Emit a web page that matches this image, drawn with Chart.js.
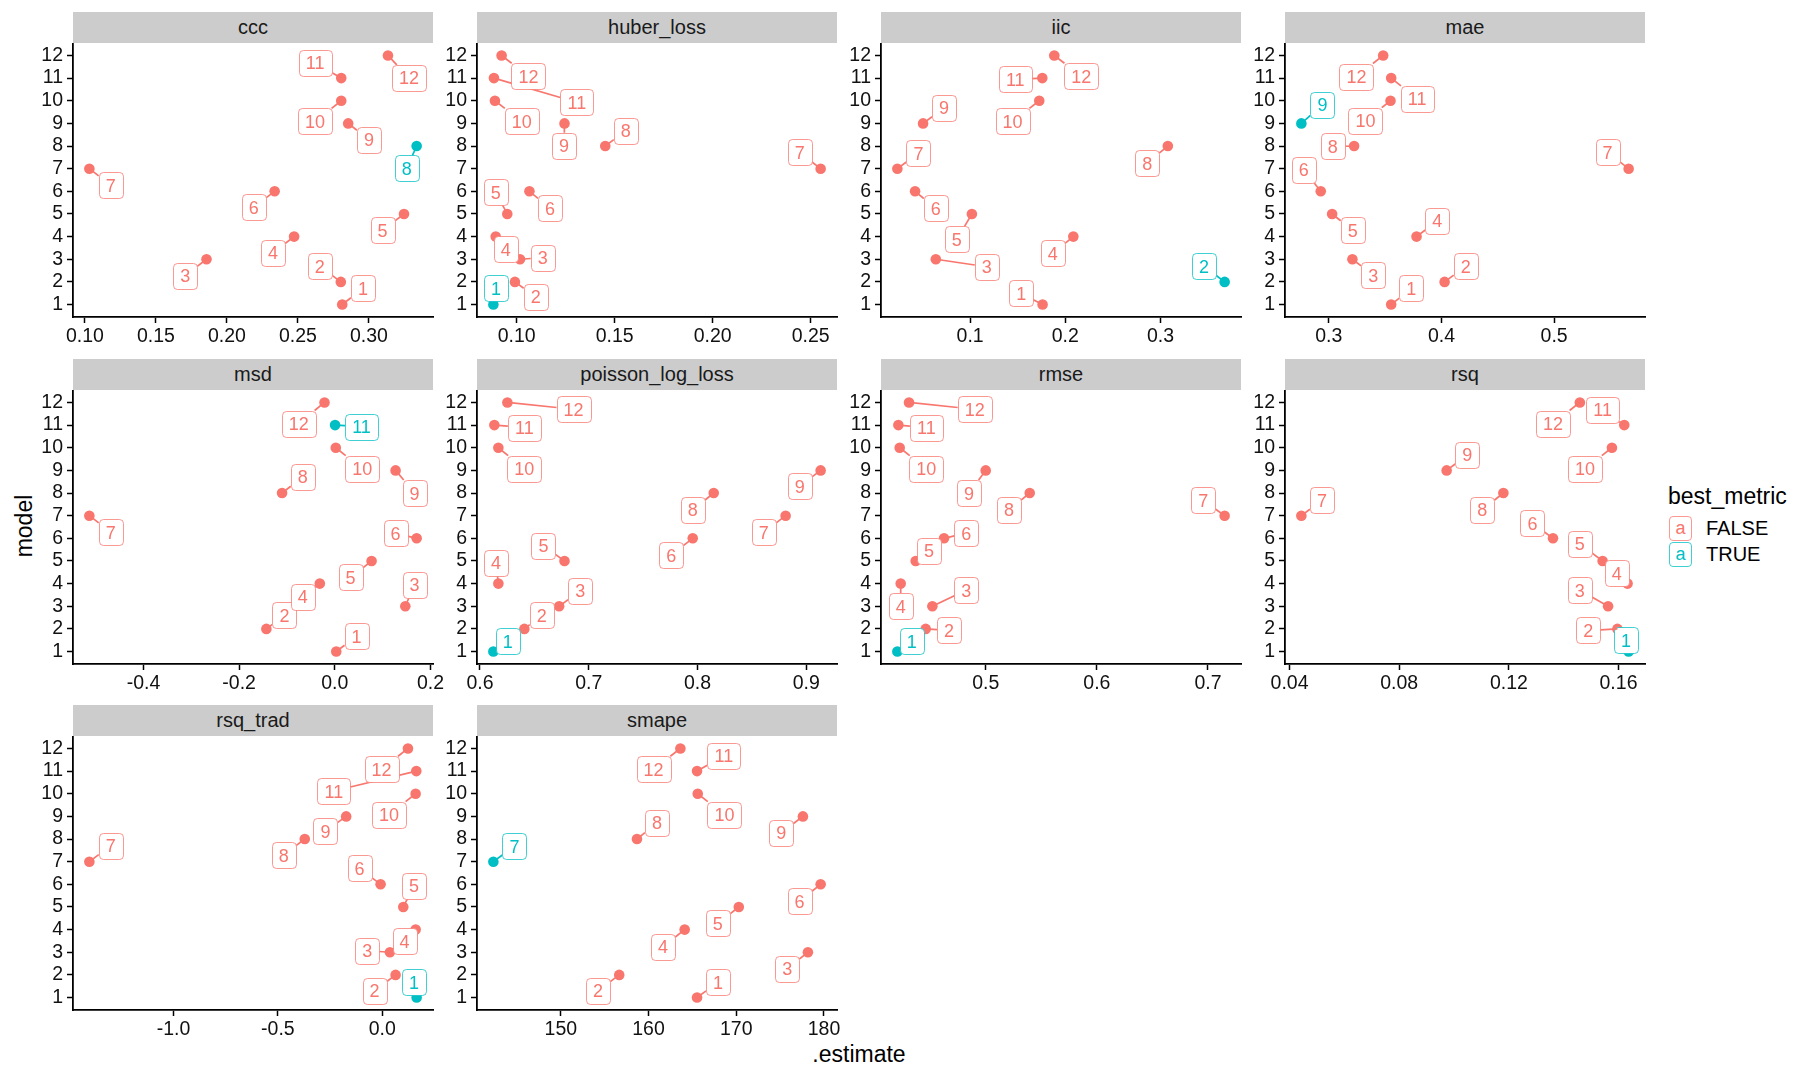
<!DOCTYPE html>
<html>
<head>
<meta charset="utf-8">
<script src="https://cdn.jsdelivr.net/npm/chart.js@4.4.0/dist/chart.umd.min.js"></script>
<style>
    body { margin: 0; width: 1800px; height: 1080px; background: #fff; position: relative; overflow: hidden; font-family: "Liberation Sans", Arial, sans-serif; }
    .strip { position: absolute; background: #cccccc; color: #1a1a1a; font-size: 20px; text-align: center; }
    .panel { position: absolute; }
    #xtitle { position: absolute; left: 759px; top: 1040px; width: 200px; text-align: center; font-size: 23px; line-height: 28px; color: #000; }
    #ytitle { position: absolute; left: -76px; top: 512px; width: 200px; text-align: center; font-size: 23px; line-height: 28px; color: #000; transform: rotate(-90deg); }
    #legend { position: absolute; left: 1668px; top: 482px; color: #000; }
    #legend .title { font-size: 23px; line-height: 28px; }
    #legend .row { position: relative; height: 26px; }
    #legend .key { position: absolute; left: 1px; top: 0; width: 21px; height: 23px; border: 1px solid; border-radius: 4px; font-size: 18px; line-height: 22px; text-align: center; }
    #legend .txt { position: absolute; left: 38px; top: 0; font-size: 20px; line-height: 25px; }
</style>
</head>
<body>
<div id="xtitle">.estimate</div>
<div id="ytitle">model</div>
<div id="legend">
    <div class="title">best_metric</div>
    <div class="row" style="margin-top:6px"><span class="key" style="color:#F8766D;border-color:rgba(248,118,109,.75)">a</span><span class="txt">FALSE</span></div>
    <div class="row"><span class="key" style="color:#00BFC4;border-color:rgba(0,191,196,.75)">a</span><span class="txt">TRUE</span></div>
</div>
<script>
// start: data
const models = [1, 2, 3, 4, 5, 6, 7, 8, 9, 10, 11, 12]
const metrics = ['ccc', 'huber_loss', 'iic', 'mae', 'msd', 'poisson_log_loss', 'rmse', 'rsq', 'rsq_trad', 'smape']
const bestModel = [8, 1, 2, 9, 11, 1, 1, 1, 1, 7]

// estimates, models 1..12
const est_ccc = [0.2812, 0.2802, 0.1856, 0.2473, 0.3247, 0.2336, 0.1031, 0.3336, 0.2854, 0.2805, 0.2805, 0.3134]
const est_huber = [0.0881, 0.0991, 0.1017, 0.0893, 0.0952, 0.1065, 0.2551, 0.1452, 0.1244, 0.0889, 0.0884, 0.0923]
const est_iic = [0.1761, 0.3674, 0.0639, 0.2084, 0.1018, 0.0421, 0.0235, 0.3077, 0.0505, 0.1726, 0.1758, 0.1884]
const est_mae = [0.3554, 0.4028, 0.3210, 0.3779, 0.3030, 0.2929, 0.5661, 0.3225, 0.2757, 0.3548, 0.3554, 0.3483]
const est_msd = [0.0030, -0.1431, 0.1473, -0.0314, 0.0768, 0.1710, -0.5131, -0.1103, 0.1270, 0.0020, 0.0005, -0.0216]
const est_poisson = [0.6123, 0.6408, 0.6728, 0.6169, 0.6777, 0.7956, 0.8810, 0.8149, 0.9132, 0.6169, 0.6132, 0.6252]
const est_rmse = [0.4205, 0.4460, 0.4520, 0.4235, 0.4370, 0.4625, 0.7150, 0.5396, 0.5000, 0.4226, 0.4214, 0.4310]
const est_rsq = [0.1637, 0.1596, 0.1562, 0.1633, 0.1542, 0.1361, 0.0443, 0.1180, 0.0973, 0.1576, 0.1621, 0.1459]
const est_rsqtrad = [0.1648, 0.0640, 0.0368, 0.1600, 0.1008, -0.0080, -1.4032, -0.3712, -0.1728, 0.1600, 0.1632, 0.1232]
const est_smape = [165.53, 156.66, 178.17, 164.12, 170.29, 179.62, 142.31, 158.68, 177.60, 165.61, 165.53, 163.63]

// repelled label positions (data units), models 1..12
const labx_ccc = [0.2958, 0.2654, 0.1706, 0.2325, 0.3096, 0.2188, 0.1181, 0.3266, 0.3000, 0.2621, 0.2621, 0.3282]
const laby_ccc = [1.71, 2.70, 2.28, 3.29, 4.28, 5.30, 6.27, 7.01, 8.28, 9.09, 11.68, 11.01]
const labx_huber = [0.0895, 0.1097, 0.1133, 0.0944, 0.0893, 0.1170, 0.2444, 0.1557, 0.1242, 0.1026, 0.1307, 0.1060]
const laby_huber = [1.71, 1.34, 3.07, 3.44, 5.95, 5.25, 7.72, 8.68, 8.01, 9.09, 9.93, 11.08]
const labx_iic = [0.1537, 0.3456, 0.1175, 0.1867, 0.0860, 0.0639, 0.0456, 0.2860, 0.0726, 0.1446, 0.1474, 0.2168]
const laby_iic = [1.49, 2.70, 2.67, 3.26, 3.88, 5.25, 7.69, 7.25, 9.68, 9.09, 10.94, 11.08]
const labx_mae = [0.3732, 0.4215, 0.3394, 0.3963, 0.3213, 0.2778, 0.5474, 0.3036, 0.2944, 0.3326, 0.3785, 0.3246]
const laby_mae = [1.71, 2.70, 2.30, 4.69, 4.28, 6.95, 7.72, 7.98, 9.83, 9.12, 10.08, 11.07]
const labx_msd = [0.0454, -0.1054, 0.1668, -0.0670, 0.0328, 0.1270, -0.4684, -0.0670, 0.1668, 0.0572, 0.0558, -0.0754]
const laby_msd = [1.68, 2.60, 3.96, 3.41, 4.27, 6.23, 6.27, 8.71, 8.00, 9.08, 10.93, 11.07]
const labx_poisson = [0.6255, 0.6568, 0.6921, 0.6147, 0.6583, 0.7759, 0.8610, 0.7956, 0.8939, 0.6408, 0.6408, 0.6860]
const laby_poisson = [1.46, 2.60, 3.68, 4.92, 5.68, 5.26, 6.27, 7.26, 8.30, 9.08, 10.89, 11.70]
const labx_rmse = [0.4334, 0.4670, 0.4826, 0.4235, 0.4490, 0.4826, 0.6958, 0.5210, 0.4850, 0.4466, 0.4466, 0.4901]
const laby_rmse = [1.46, 1.93, 3.71, 3.01, 5.46, 6.23, 7.68, 7.26, 8.00, 9.08, 10.89, 11.70]
const labx_rsq = [0.1627, 0.1490, 0.1459, 0.1594, 0.1459, 0.1286, 0.0518, 0.1103, 0.1048, 0.1478, 0.1542, 0.1361]
const laby_rsq = [1.49, 1.93, 3.71, 4.45, 5.75, 6.67, 7.68, 7.26, 9.68, 9.08, 11.67, 11.07]
const labx_rsqtrad = [0.152, -0.0368, -0.072, 0.1072, 0.152, -0.1088, -1.3008, -0.472, -0.272, 0.032, -0.232, -0.0032]
const laby_rsqtrad = [1.68, 1.30, 3.07, 3.49, 5.93, 6.71, 7.71, 7.29, 8.34, 9.08, 10.12, 11.08]
const labx_smape = [167.93, 154.23, 175.81, 161.65, 167.89, 177.22, 144.71, 160.96, 175.12, 168.65, 168.58, 160.58]
const laby_smape = [1.68, 1.30, 2.27, 3.24, 4.27, 5.26, 7.68, 8.71, 8.27, 9.08, 11.67, 11.08]

// x tick labels
const ticks_ccc = ['0.10', '0.15', '0.20', '0.25', '0.30']
const ticks_huber = ['0.10', '0.15', '0.20', '0.25']
const ticks_iic = ['0.1', '0.2', '0.3']
const ticks_mae = ['0.3', '0.4', '0.5']
const ticks_msd = ['-0.4', '-0.2', '0.0', '0.2']
const ticks_poisson = ['0.6', '0.7', '0.8', '0.9']
const ticks_rmse = ['0.5', '0.6', '0.7']
const ticks_rsq = ['0.04', '0.08', '0.12', '0.16']
const ticks_rsqtrad = ['-1.0', '-0.5', '0.0']
const ticks_smape = ['150', '160', '170', '180']
// end: data

const estimates = [est_ccc, est_huber, est_iic, est_mae, est_msd, est_poisson, est_rmse, est_rsq, est_rsqtrad, est_smape]
const labelsX = [labx_ccc, labx_huber, labx_iic, labx_mae, labx_msd, labx_poisson, labx_rmse, labx_rsq, labx_rsqtrad, labx_smape]
const labelsY = [laby_ccc, laby_huber, laby_iic, laby_mae, laby_msd, laby_poisson, laby_rmse, laby_rsq, laby_rsqtrad, laby_smape]
const tickLabels = [ticks_ccc, ticks_huber, ticks_iic, ticks_mae, ticks_msd, ticks_poisson, ticks_rmse, ticks_rsq, ticks_rsqtrad, ticks_smape]

const SALMON = '#F8766D'
const TEAL = '#00BFC4'
const FONT = '"Liberation Sans", Arial, sans-serif'

// layout of the facet grid
const PANEL_LEFT = 73
const PANEL_PITCH_X = 404
const ROW_TOP = 12
const ROW_PITCH = 346.5
const PANEL_W = 360
const STRIP_H = 31
const PLOT_H = 274
const YAXIS_W = 70
const XAXIS_H = 40
const PAD_R = 24

function colorFor(k, m) {
    return m === bestModel[k] ? TEAL : SALMON
}

// draws ggrepel-like label boxes with a segment back to the point
function makeRepel(k) {
    return {
        id: 'repel' + k,
        afterDatasetsDraw(chart) {
            const ctx = chart.ctx
            const x = chart.scales.x
            const y = chart.scales.y
            ctx.save()
            ctx.font = '18px ' + FONT
            models.forEach(function (m, i) {
                const col = colorFor(k, m)
                const px = x.getPixelForValue(estimates[k][i])
                const py = y.getPixelForValue(m)
                const lx = x.getPixelForValue(labelsX[k][i])
                const ly = y.getPixelForValue(labelsY[k][i])
                const txt = String(m)
                const w = Math.round(ctx.measureText(txt).width + 14)
                const h = 26
                // segment
                const dx = px - lx, dy = py - ly
                const tx = dx === 0 ? Infinity : (w / 2) / Math.abs(dx)
                const ty = dy === 0 ? Infinity : (h / 2) / Math.abs(dy)
                const t = Math.min(tx, ty)
                if (t < 1) {
                    ctx.strokeStyle = col
                    ctx.lineWidth = 1.7
                    ctx.beginPath()
                    ctx.moveTo(lx + dx * t, ly + dy * t)
                    ctx.lineTo(px, py)
                    ctx.stroke()
                }
                // box
                const bx = Math.round(lx - w / 2) + 0.5
                const by = Math.round(ly - h / 2) + 0.5
                const r = 4
                ctx.beginPath()
                ctx.moveTo(bx + r, by)
                ctx.lineTo(bx + w - r, by)
                ctx.arcTo(bx + w, by, bx + w, by + r, r)
                ctx.lineTo(bx + w, by + h - r)
                ctx.arcTo(bx + w, by + h, bx + w - r, by + h, r)
                ctx.lineTo(bx + r, by + h)
                ctx.arcTo(bx, by + h, bx, by + h - r, r)
                ctx.lineTo(bx, by + r)
                ctx.arcTo(bx, by, bx + r, by, r)
                ctx.closePath()
                ctx.fillStyle = '#fff'
                ctx.fill()
                ctx.globalAlpha = 0.75
                ctx.strokeStyle = col
                ctx.lineWidth = 1
                ctx.stroke()
                ctx.globalAlpha = 1
                // text
                ctx.fillStyle = col
                ctx.textAlign = 'center'
                ctx.textBaseline = 'alphabetic'
                ctx.fillText(txt, lx, ly + 6.5)
            })
            ctx.restore()
        }
    }
}

metrics.forEach(function (name, k) {
    const col = k % 4
    const row = Math.floor(k / 4)
    const left = PANEL_LEFT + col * PANEL_PITCH_X
    const top = ROW_TOP + row * ROW_PITCH

    const strip = document.createElement('div')
    strip.className = 'strip'
    strip.style.left = left + 'px'
    strip.style.top = top + 'px'
    strip.style.width = PANEL_W + 'px'
    strip.style.height = STRIP_H + 'px'
    strip.style.lineHeight = STRIP_H + 'px'
    strip.textContent = name
    document.body.appendChild(strip)

    const holder = document.createElement('div')
    holder.className = 'panel'
    holder.style.left = (left - YAXIS_W) + 'px'
    holder.style.top = (top + STRIP_H) + 'px'
    const canvas = document.createElement('canvas')
    canvas.width = YAXIS_W + PANEL_W + PAD_R
    canvas.height = PLOT_H + XAXIS_H
    holder.appendChild(canvas)
    document.body.appendChild(holder)

    const est = estimates[k]
    const lo = Math.min(...est), hi = Math.max(...est)
    const ex = (hi - lo) * 0.05
    const xt = tickLabels[k]

    new Chart(canvas, {
        type: 'scatter',
        data: {
            datasets: [{
                data: models.map(function (m, i) { return { x: est[i], y: m } }),
                pointRadius: 5.3,
                pointHoverRadius: 5.3,
                pointBorderWidth: 0,
                pointBackgroundColor: models.map(function (m) { return colorFor(k, m) }),
                clip: false
            }]
        },
        options: {
            responsive: false,
            animation: false,
            events: [],
            layout: { autoPadding: false, padding: { left: 0, right: PAD_R, top: 0, bottom: 0 } },
            plugins: { legend: { display: false }, tooltip: { enabled: false } },
            scales: {
                x: {
                    type: 'linear',
                    min: lo - ex,
                    max: hi + ex,
                    afterBuildTicks: function (s) { s.ticks = xt.map(function (v) { return { value: Number(v) } }) },
                    afterFit: function (s) { s.height = XAXIS_H; s.paddingLeft = 0; s.paddingRight = 0 },
                    ticks: {
                        callback: function (v, i) { return xt[i] },
                        font: { family: FONT, size: 19.5 },
                        color: '#111',
                        padding: 2,
                        maxRotation: 0,
                        autoSkip: false
                    },
                    grid: { drawOnChartArea: false, drawTicks: true, tickLength: 6, tickWidth: 1.5, tickColor: '#000' },
                    border: { display: true, color: '#000', width: 1.8 }
                },
                y: {
                    type: 'linear',
                    min: 0.45,
                    max: 12.55,
                    afterBuildTicks: function (s) { s.ticks = models.map(function (v) { return { value: v } }) },
                    afterFit: function (s) { s.width = YAXIS_W; s.paddingTop = 0; s.paddingBottom = 0 },
                    ticks: {
                        callback: function (v) { return String(v) },
                        font: { family: FONT, size: 19.5 },
                        color: '#111',
                        padding: 4,
                        autoSkip: false
                    },
                    grid: { drawOnChartArea: false, drawTicks: true, tickLength: 6, tickWidth: 1.5, tickColor: '#000' },
                    border: { display: true, color: '#000', width: 1.8 }
                }
            }
        },
        plugins: [makeRepel(k)]
    })
})
</script>
</body>
</html>
